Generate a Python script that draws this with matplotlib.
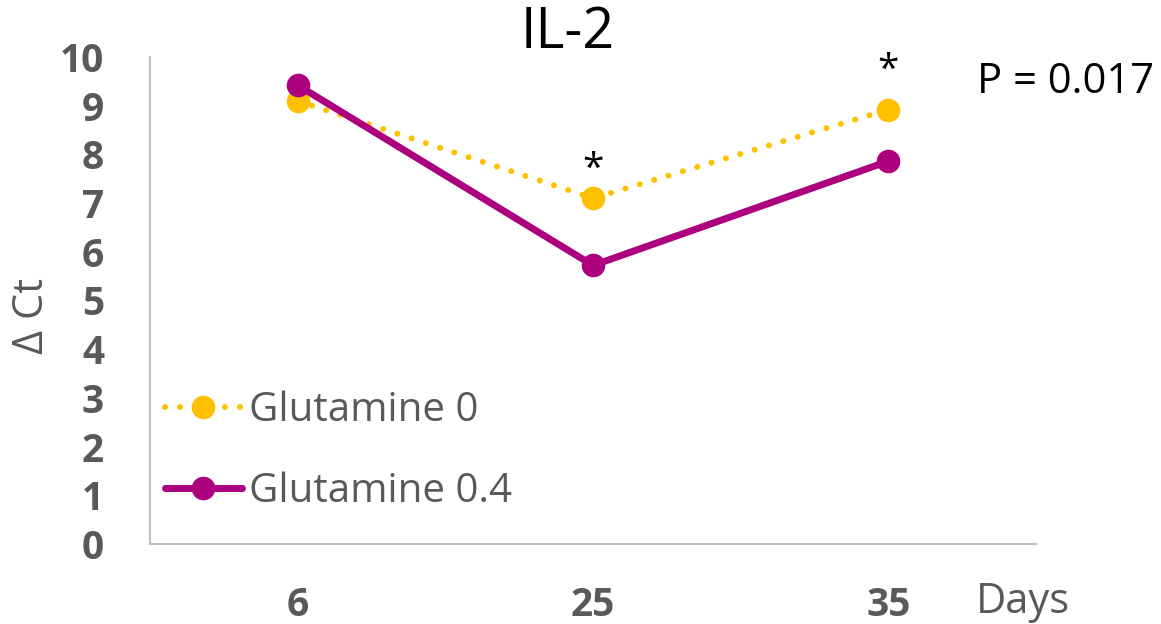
import matplotlib
matplotlib.use("Agg")
import matplotlib.pyplot as plt

days = ["6", "25", "35"]
glutamine_0 = [9.1, 7.1, 8.92]
glutamine_04 = [9.42, 5.72, 7.86]
series_labels = ["Glutamine 0", "Glutamine 0.4"]
star_days = [1, 2]
star_heights = [7.68, 9.72]

YELLOW = "#FFC000"
MAGENTA = "#AC007E"
GRAY = "#595959"

plt.rcParams["font.family"] = ["Open Sans", "DejaVu Sans"]

fig = plt.figure(figsize=(11.61, 6.24), dpi=100)
ax = fig.add_axes([0.1292, 0.1282, 0.7632, 0.7805])

x = list(range(len(days)))
ax.plot(x, glutamine_0, color=YELLOW, lw=4.3, linestyle=(0, (0.01, 2.5)),
        dash_capstyle="round", marker="o", ms=17, mew=0,
        label=series_labels[0], zorder=3)
ax.plot(x, glutamine_04, color=MAGENTA, lw=5, solid_capstyle="round",
        marker="o", ms=17, mew=0, label=series_labels[1], zorder=4)

for d, h in zip(star_days, star_heights):
    ax.text(d, h, "*", ha="center", va="center", fontsize=28, color="black")

ax.set_xlim(-0.5, 2.5)
ax.set_ylim(0, 10)
ax.set_yticks(range(0, 11))
ax.set_xticks(x)
ax.set_xticklabels(days)
ax.tick_params(axis="both", length=0, labelsize=28, labelcolor=GRAY)
ax.tick_params(axis="x", pad=30)
ax.tick_params(axis="y", pad=33)
for lbl in ax.get_xticklabels() + ax.get_yticklabels():
    lbl.set_fontweight("bold")

for side in ["top", "right"]:
    ax.spines[side].set_visible(False)
for side in ["left", "bottom"]:
    ax.spines[side].set_color("#BFBFBF")
    ax.spines[side].set_linewidth(1.5)

fig.text(568 / 1161, 1 - 33 / 624, "IL-2", ha="center", va="center",
         fontsize=40, color="black")
fig.text(1066 / 1161, 1 - 82 / 624, "P = 0.017", ha="center", va="center",
         fontsize=30, color="black")
fig.text(1023 / 1161, 1 - 602 / 624, "Days", ha="center", va="center",
         fontsize=30, color=GRAY)
fig.text(32 / 1161, 1 - 316 / 624, "Δ Ct", ha="center", va="center",
         rotation=90, fontsize=30, color=GRAY)

leg = fig.legend(loc="center left", bbox_to_anchor=(165 / 1161, 1 - 451 / 624),
                 frameon=False, fontsize=29, handlelength=1.9,
                 handletextpad=0.18, labelspacing=1.0, borderpad=0,
                 borderaxespad=0)
for t in leg.get_texts():
    t.set_color(GRAY)

fig.savefig("out.png", dpi=100)
